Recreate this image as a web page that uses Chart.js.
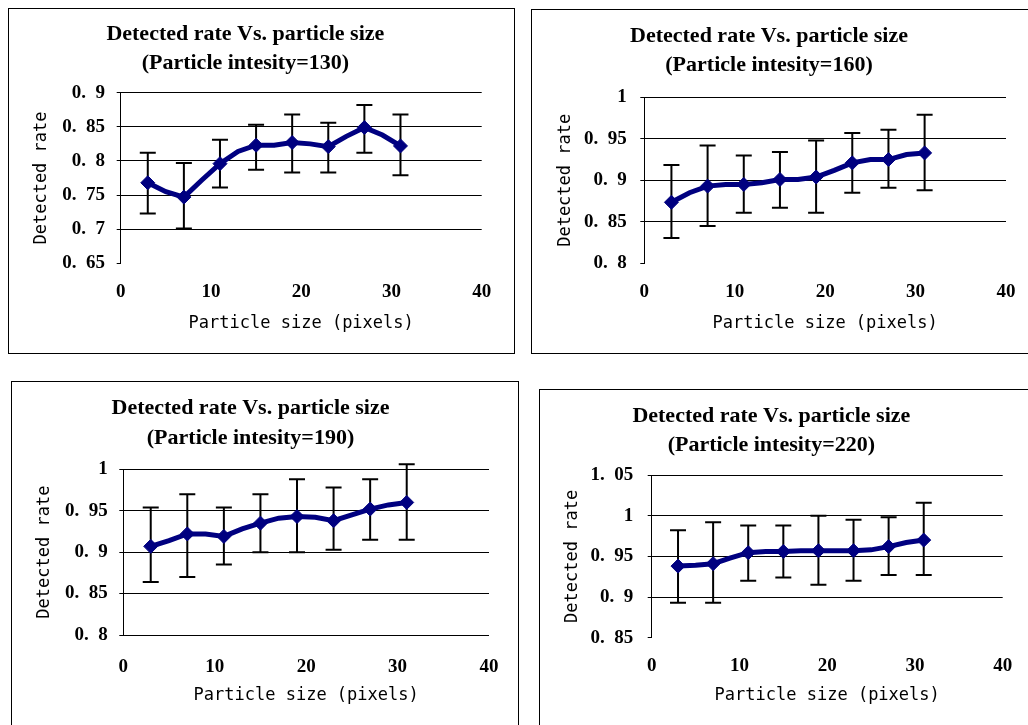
<!DOCTYPE html>
<html>
<head>
<meta charset="utf-8">
<script src="https://cdn.jsdelivr.net/npm/chart.js@4.4.0/dist/chart.umd.min.js"></script>
<style>
  html, body { margin: 0; padding: 0; background: #fff; overflow: hidden; }
  #page { position: relative; width: 1028px; height: 725px; overflow: hidden; }
  .box { position: absolute; border: 1px solid #000; box-sizing: border-box; }
  canvas { position: absolute; }
</style>
</head>
<body>
<div id="page">
  <div class="box" style="left:8px;top:8px;width:507px;height:346px"></div>
  <div class="box" style="left:531px;top:9px;width:600px;height:345px"></div>
  <div class="box" style="left:11px;top:381px;width:508px;height:400px"></div>
  <div class="box" style="left:539px;top:389px;width:600px;height:400px"></div>
  <canvas id="c130" width="528" height="344" style="left:9px;top:9px"></canvas>
  <canvas id="c160" width="534" height="343" style="left:532px;top:10px"></canvas>
  <canvas id="c190" width="529" height="343" style="left:12px;top:382px"></canvas>
  <canvas id="c220" width="526" height="336" style="left:540px;top:390px"></canvas>
</div>
<script>
// particle sizes (pixels): line goes through every odd size, markers every 4
const sizes = [3, 5, 7, 9, 11, 13, 15, 17, 19, 21, 23, 25, 27, 29, 31];
const markerSizes = [3, 7, 11, 15, 19, 23, 27, 31];

// intensity 130
const rate130 = [0.768, 0.755, 0.747, 0.772, 0.796, 0.814, 0.823, 0.823, 0.827, 0.825, 0.821, 0.836, 0.849, 0.838, 0.822];
const hi130 = [0.812, 0.797, 0.831, 0.853, 0.868, 0.856, 0.882, 0.868];
const lo130 = [0.723, 0.701, 0.761, 0.787, 0.783, 0.783, 0.812, 0.779];
const yRange130 = [0.65, 0.9];

// intensity 160
const rate160 = [0.8735, 0.885, 0.893, 0.895, 0.895, 0.897, 0.901, 0.901, 0.904, 0.912, 0.921, 0.925, 0.925, 0.931, 0.933];
const hi160 = [0.9185, 0.942, 0.930, 0.934, 0.948, 0.957, 0.961, 0.979];
const lo160 = [0.8305, 0.845, 0.861, 0.867, 0.861, 0.885, 0.891, 0.888];
const yRange160 = [0.8, 1];

// intensity 190
const rate190 = [0.907, 0.914, 0.922, 0.922, 0.919, 0.928, 0.935, 0.941, 0.943, 0.942, 0.938, 0.945, 0.952, 0.957, 0.960];
const hi190 = [0.954, 0.970, 0.954, 0.970, 0.988, 0.978, 0.988, 1.006];
const lo190 = [0.864, 0.870, 0.885, 0.900, 0.900, 0.903, 0.915, 0.915];
const yRange190 = [0.8, 1];

// intensity 220
const rate220 = [0.938, 0.939, 0.941, 0.948, 0.9545, 0.956, 0.956, 0.957, 0.957, 0.957, 0.957, 0.958, 0.962, 0.967, 0.970];
const hi220 = [0.982, 0.992, 0.988, 0.988, 1.000, 0.995, 0.998, 1.016];
const lo220 = [0.893, 0.893, 0.920, 0.924, 0.915, 0.920, 0.927, 0.927];
const yRange220 = [0.85, 1.05];

const navy = '#000080';

/* error bars drawn under the line, from the marker dataset */
const errorBars = {
  id: 'errorBars',
  beforeDatasetsDraw(chart) {
    let ds = chart.data.datasets[1];
    let xs = chart.scales.x, ys = chart.scales.y;
    let ctx = chart.ctx;
    ctx.save();
    ctx.strokeStyle = '#000';
    ctx.lineWidth = 2;
    ds.data.forEach(function(p, i) {
      let px = xs.getPixelForValue(p.x);
      let top = ys.getPixelForValue(ds.errHi[i]);
      let bot = ys.getPixelForValue(ds.errLo[i]);
      ctx.beginPath();
      ctx.moveTo(px, top); ctx.lineTo(px, bot);
      ctx.moveTo(px - 8, top); ctx.lineTo(px + 8, top);
      ctx.moveTo(px - 8, bot); ctx.lineTo(px + 8, bot);
      ctx.stroke();
    });
    ctx.restore();
  }
};

function makeChart(id, intensity, rate, hi, lo, yRange, g) {
  let linePts = sizes.map(function(s, i) { return {x: s, y: rate[i]}; });
  let markPts = markerSizes.map(function(s) { return {x: s, y: rate[sizes.indexOf(s)]}; });

  return new Chart(document.getElementById(id), {
    type: 'line',
    data: {
      datasets: [{
        data: linePts,
        borderColor: navy,
        borderWidth: 5,
        pointRadius: 0,
        tension: 0
      }, {
        data: markPts,
        showLine: false,
        pointStyle: 'rectRot',
        pointRadius: 7,
        pointBackgroundColor: navy,
        pointBorderColor: navy,
        errHi: hi,
        errLo: lo
      }]
    },
    options: {
      responsive: false,
      animation: false,
      devicePixelRatio: 1,
      layout: { padding: { left: 0, top: 0, bottom: 0, right: g.right } },
      plugins: {
        legend: { display: false },
        tooltip: { enabled: false },
        title: {
          display: true,
          text: ['Detected rate Vs. particle size', '(Particle intesity=' + intensity + ')'],
          color: '#000',
          font: { family: '"Liberation Serif", "Times New Roman", serif', size: 22, weight: 'bold', lineHeight: g.titleLh / 22 },
          padding: { top: g.titleTop, bottom: g.titleBottom }
        }
      },
      scales: {
        x: {
          type: 'linear',
          min: 0,
          max: 40,
          afterFit: function(s) { s.height = g.xHeight; },
          ticks: {
            stepSize: 10,
            color: '#000',
            padding: g.xTickPad,
            maxRotation: 0,
            font: { family: '"Liberation Serif", "Times New Roman", serif', size: 19, weight: 'bold' }
          },
          grid: { display: false, drawTicks: false },
          border: { display: false },
          title: {
            display: true,
            text: 'Particle size (pixels)',
            color: '#000',
            padding: g.xTitlePad,
            font: { family: '"DejaVu Sans Mono", monospace', size: 17 }
          }
        },
        y: {
          min: yRange[0],
          max: yRange[1],
          afterFit: function(s) { s.width = g.left; },
          ticks: {
            stepSize: 0.05,
            color: '#000',
            padding: g.yTickPad,
            font: { family: '"Liberation Serif", "Times New Roman", serif', size: 19, weight: 'bold' },
            callback: function(v) {
              // the original labels have a wide gap after the decimal point
              let s = String(Math.round(v * 100) / 100);
              return s.replace('.', '.\u2002');
            }
          },
          grid: {
            color: function(c) {
              if (!g.bottomLine && c.tick && Math.abs(c.tick.value - yRange[0]) < 1e-9) return 'rgba(0,0,0,0)';
              return '#000';
            },
            tickColor: '#000',
            tickLength: 4,
            lineWidth: 1
          },
          border: { display: true, color: '#000', width: 1 },
          title: {
            display: true,
            text: 'Detected rate',
            color: '#000',
            padding: g.yTitlePad,
            font: { family: '"DejaVu Sans Mono", monospace', size: 17 }
          }
        }
      }
    },
    plugins: [errorBars]
  });
}

makeChart('c130', 130, rate130, hi130, lo130, yRange130,
  { left: 111.7, right: 55.3, xHeight: 89.7, titleLh: 29, titleTop: 10.5, titleBottom: 15.2,
    yTickPad: 11.7, xTickPad: 17.3, xTitlePad: 19.5, yTitlePad: 22.8, bottomLine: false });
makeChart('c160', 160, rate160, hi160, lo160, yRange160,
  { left: 112.3, right: 60, xHeight: 89.7, titleLh: 29.7, titleTop: 11.15, titleBottom: 16.75,
    yTickPad: 13.6, xTickPad: 17, xTitlePad: 19.5, yTitlePad: 23.5, bottomLine: false });
makeChart('c190', 190, rate190, hi190, lo190, yRange190,
  { left: 111.3, right: 52, xHeight: 90, titleLh: 30, titleTop: 11.3, titleBottom: 16,
    yTickPad: 11.6, xTickPad: 20.3, xTitlePad: 19.1, yTitlePad: 22.1, bottomLine: true });
makeChart('c220', 220, rate220, hi220, lo220, yRange220,
  { left: 111.7, right: 63.3, xHeight: 88.3, titleLh: 29.7, titleTop: 11.15, titleBottom: 14.45,
    yTickPad: 14.4, xTickPad: 16.9, xTitlePad: 19.8, yTitlePad: 22.5, bottomLine: false });
</script>
</body>
</html>
